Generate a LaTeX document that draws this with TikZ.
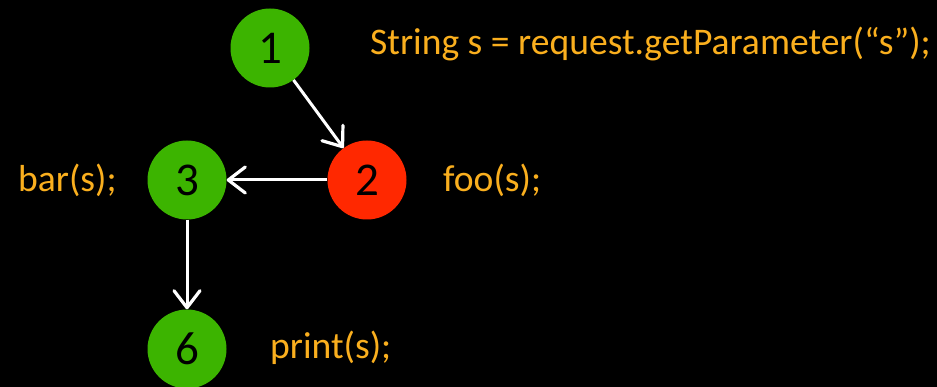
\documentclass[tikz,border=0pt]{standalone}
\usepackage{fontspec}
\setmainfont{Carlito}
\usetikzlibrary{arrows.meta}
\definecolor{nodegreen}{RGB}{60,180,0}
\definecolor{nodered}{RGB}{255,40,0}
\definecolor{codeorange}{RGB}{250,175,30}
\begin{document}
\begin{tikzpicture}[x=1pt,y=-1pt,
  stmt/.style={circle,minimum size=79pt,inner sep=0pt,text=black,font=\fontsize{47}{50}\selectfont},
  ok/.style={stmt,fill=nodegreen},
  bad/.style={stmt,fill=nodered},
  code/.style={text=codeorange,font=\fontsize{37.6}{42}\selectfont,anchor=west,inner sep=0pt},
  flow/.style={draw=white,line width=3pt,-{Straight Barb[length=17pt,width=26pt,line width=3.2pt,line cap=round,line join=round]}}]
  \fill[black] (0,0) rectangle (937,387);
  \useasboundingbox (0,0) rectangle (937,387);

  \node[ok]  (n1) at (270,48)  {1};
  \node[bad] (n2) at (367,180) {2};
  \node[ok]  (n3) at (187,180) {3};
  \node[ok]  (n6) at (187,349) {6};

  \node[code] (c1) at (370,44)  {String s = request.getParameter(“s”);};
  \node[code] (c2) at (443,180) {foo(s);};
  \node[code] (c3) at (18,180)  {bar(s);};
  \node[code] (c6) at (270,348) {print(s);};

  \draw[flow] (n1) -- (n2);
  \draw[flow] (n2) -- (n3);
  \draw[flow] (n3) -- (n6);
\end{tikzpicture}
\end{document}
